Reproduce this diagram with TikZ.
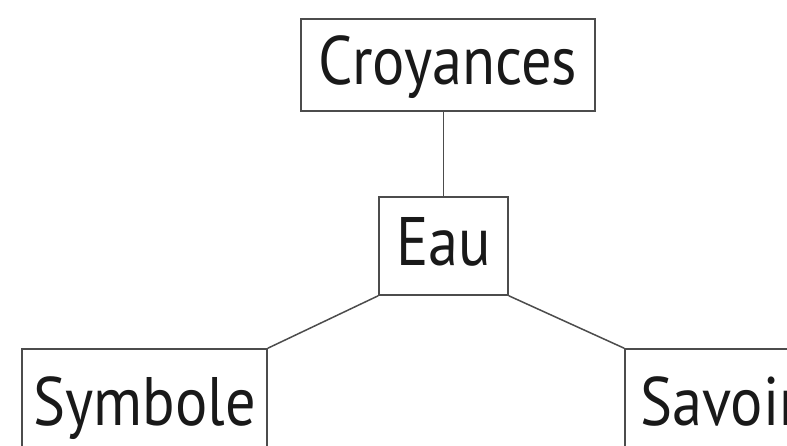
\documentclass[tikz,border=0pt]{standalone}
\usepackage{fontspec}
\newfontfamily\boxfont[FakeStretch=0.88]{PT Sans}

\begin{document}
\begin{tikzpicture}[x=1pt,y=-1pt]
                \tikzstyle{boite}=[rectangle, draw=black!70, line width=1.5pt, inner sep=0pt,
                        text=black!90, font=\boxfont\fontsize{68.6}{70}\selectfont,
                        text height=48pt, text depth=10pt]
                \tikzstyle{lien}=[draw=black!70, line width=1.5pt]

                \useasboundingbox (0,0) rectangle (787,445);

                \node[boite, minimum width=294pt, minimum height=92pt]  (a) at (448,65) {Croyances};
                \node[boite, minimum width=129pt, minimum height=98pt]  (b) at (443.5,246) {Eau};
                \node[boite, minimum width=245pt, minimum height=114pt] (c) at (144.5,406) {Symbole};
                \node[boite, minimum width=190pt, minimum height=114pt] (d) at (720,406) {Savoir};

                \draw[lien] (b.north) -- (b.north |- a.south);
                \draw[lien] (b.south west) -- (c.north east);
                \draw[lien] (b.south east) -- (d.north west);
            \end{tikzpicture}
\end{document}
